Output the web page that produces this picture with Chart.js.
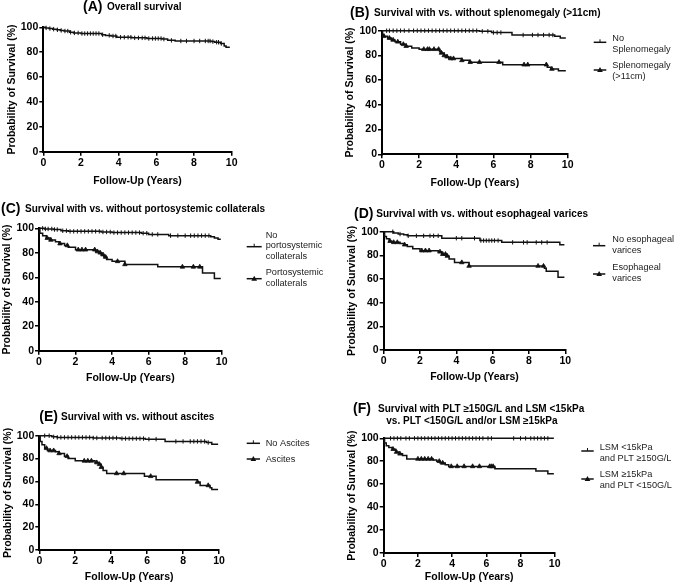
<!DOCTYPE html>
<html>
<head>
<meta charset="utf-8">
<script src="https://cdn.jsdelivr.net/npm/chart.js@4.4.1/dist/chart.umd.min.js"></script>
<style>
  html, body { margin: 0; padding: 0; background: #fff; }
  #wrap { position: relative; width: 677px; height: 584px; }
  #wrap canvas { position: absolute; left: 0; top: 0; width: 677px; height: 584px; }
</style>
</head>
<body>
<div id="wrap">
  <canvas id="cA" width="677" height="584"></canvas>
  <canvas id="cB" width="677" height="584"></canvas>
  <canvas id="cC" width="677" height="584"></canvas>
  <canvas id="cD" width="677" height="584"></canvas>
  <canvas id="cE" width="677" height="584"></canvas>
  <canvas id="cF" width="677" height="584"></canvas>
</div>
<script>
// axis ticks
const xTickVals = [0, 2, 4, 6, 8, 10];
const yTickVals = [0, 20, 40, 60, 80, 100];

// Kaplan-Meier curves: [years, % surviving] at each event
// censored times listed separately (ticks / triangles sit on the curve)

// (A) overall
const survAll = [[0,100],[0.1,99.5],[0.3,99],[0.5,98.5],[0.7,98],[0.9,97.5],[1.1,97],[1.4,96],[1.6,95.5],[2.0,95],[3.1,94],[3.3,93.5],[3.6,93],[3.9,92],[4.7,91.5],[5.5,91],[6.3,90.5],[6.6,89.5],[7.0,89],[8.9,88.5],[9.1,88],[9.4,87],[9.6,85],[9.7,84],[9.9,84]];
const censAll = [0.15,0.35,0.55,0.75,0.95,1.15,1.3,1.45,1.65,1.85,2.05,2.2,2.35,2.5,2.65,2.8,2.95,3.15,3.5,3.7,3.85,4.1,4.3,4.5,4.65,4.85,5.05,5.25,5.4,5.6,5.8,5.95,6.1,6.25,6.4,6.8,7.3,7.6,8.0,8.3,8.6,8.75,8.85,9.0,9.2,9.3,9.45];

// (B) splenomegaly
const survNoSpleno = [[0,100],[5.25,99.5],[5.9,98.5],[7.0,96.5],[9.3,95.5],[9.6,94],[9.9,94]];
const censNoSpleno = [0.25,0.4,0.6,0.8,1.0,1.2,1.45,1.7,1.9,2.1,2.3,2.5,2.7,2.9,3.1,3.3,3.5,3.7,3.9,4.1,4.3,4.5,4.7,4.9,5.1,5.4,5.7,6.0,6.2,6.4,7.6,8.1,8.4,8.7,9.0,9.2];
const survSpleno = [[0,100],[0.03,97],[0.1,95.5],[0.3,94],[0.5,92.5],[0.7,91],[1.0,89],[1.3,87.5],[1.6,86],[2.0,85],[3.1,83],[3.2,82],[3.35,80],[3.5,79],[3.6,77.5],[4.3,76],[4.7,74.5],[6.5,72.5],[8.9,70.5],[9.1,69],[9.5,67.5],[9.9,67.5]];
const censSpleno = [0.1,0.4,0.6,0.85,1.15,1.3,2.25,2.45,2.55,2.8,3.05,3.2,3.35,3.5,3.7,3.85,4.3,4.75,5.25,6.3,7.65,7.85,8.85,9.15];

// (C) portosystemic collaterals
const survNoColl = [[0,100],[0.3,99.5],[0.8,99],[1.2,98],[1.6,97.5],[3.4,97],[4.0,96.5],[5.6,96],[6.0,95],[7.1,94],[9.4,93],[9.6,92],[9.8,91],[9.95,91]];
const censNoColl = [0.2,0.35,0.5,0.7,0.85,1.0,1.3,1.5,1.7,1.9,2.1,2.3,2.5,2.7,2.9,3.1,3.3,3.5,3.7,3.9,4.1,4.3,4.5,4.7,4.9,5.1,5.3,5.5,5.7,5.9,6.2,6.5,7.2,7.6,8.0,8.3,8.5,8.7,8.9,9.1,9.3];
const survColl = [[0,100],[0.05,96],[0.2,94],[0.4,92],[0.6,90.5],[0.9,89],[1.1,87.5],[1.4,86],[1.6,84.5],[2.0,82.5],[3.1,81],[3.3,80],[3.4,78.5],[3.55,76.5],[3.7,74.5],[4.0,73],[4.7,70.5],[6.5,68.5],[8.95,63.5],[9.6,59],[9.95,59]];
const censColl = [0.45,0.65,1.15,1.55,2.15,2.35,2.55,3.05,3.2,3.35,3.5,3.65,4.3,4.7,7.85,8.45,8.8];

// (D) esophageal varices
const survNoVar = [[0,100],[0.55,99],[0.8,98],[1.1,97.5],[1.3,96.5],[3.2,94.5],[5.3,92.5],[6.5,91],[9.7,89],[9.95,89]];
const censNoVar = [0.5,0.9,1.35,1.8,2.2,2.55,2.75,3.0,4.0,4.3,5.0,5.35,5.5,5.65,5.8,5.95,6.1,6.3,7.1,7.7,7.9,8.4,8.7,9.0];
const survVar = [[0,100],[0.05,96],[0.15,94],[0.3,92],[0.45,91],[0.9,90],[1.1,89],[1.3,87.5],[1.6,85.5],[2.0,84],[3.0,83],[3.2,81],[3.45,79.5],[3.6,77],[3.9,74],[4.7,71],[8.85,69],[8.95,66.5],[9.6,61.5],[9.95,61.5]];
const censVar = [0.35,0.55,0.75,1.15,2.1,2.3,2.5,3.1,3.25,3.4,3.5,4.3,4.7,8.5,8.8];

// (E) ascites
const survNoAsc = [[0,100],[0.7,99],[1.0,98.5],[3.0,98],[4.5,97.5],[5.9,97],[7.0,95],[9.3,94],[9.6,92.5],[9.95,92.5]];
const censNoAsc = [0.3,0.55,0.8,1.0,1.2,1.4,1.6,1.8,2.0,2.2,2.4,2.6,2.8,3.0,3.2,3.5,3.7,3.9,4.1,4.3,4.6,4.8,5.0,5.2,5.4,5.6,5.8,6.1,6.5,7.6,8.0,8.4,8.6,8.8,9.0,9.2,9.4];
const survAsc = [[0,100],[0.05,95],[0.15,92],[0.3,89],[0.45,87],[0.9,86],[1.1,84.5],[1.4,82],[1.6,80],[2.0,78],[3.1,76.5],[3.3,75],[3.45,72.5],[3.55,69.5],[3.75,67],[5.85,64.5],[6.5,61.5],[8.8,59.5],[8.95,56.5],[9.5,54.5],[9.6,53],[9.95,53]];
const censAsc = [0.4,0.6,0.8,1.1,1.55,2.5,2.7,2.9,3.2,3.35,3.45,4.3,4.7,6.2,8.8,9.4];

// (F) LSM / PLT
const survLowRisk = [[0,100],[9.95,100]];
const censLowRisk = [0.4,0.6,0.8,1.0,1.3,1.5,1.8,2.0,2.2,2.4,2.6,2.8,3.0,3.2,3.4,3.6,3.8,4.0,4.2,4.4,4.6,4.8,5.0,5.2,5.4,5.6,5.8,6.1,6.3,7.6,8.0,8.3,8.6,8.8,9.0,9.2,9.4,9.6];
const survHighRisk = [[0,100],[0.05,96],[0.15,93.5],[0.3,92],[0.5,90.5],[0.7,88],[0.9,86.5],[1.1,85],[1.35,82],[2.9,81],[3.1,80],[3.3,78.5],[3.6,77],[3.8,75.5],[6.5,73.5],[8.9,71.5],[9.6,69],[9.95,69]];
const censHighRisk = [0.55,0.75,0.95,2.0,2.2,2.4,2.6,2.8,3.25,3.45,3.95,4.3,4.7,5.2,5.6,6.2,6.3,6.4];

const FONT = '"Liberation Sans", Arial, Helvetica, sans-serif';
const INK = '#111';
Chart.defaults.font.family = FONT;
Chart.defaults.color = '#000';

const bigFont = 'bold 14px ' + FONT;
const titleFont = 'bold 10px ' + FONT;
const legendFont = '9.2px ' + FONT;

const panels = [
  { id: 'cA', L: 43.3, R: 231.7, T: 27.3, B: 151.7, H: 35.6,
    groups: [{ surv: survAll, cens: censAll, mark: 'tick' }],
    title: [{ y: 7.5, parts: [['(A)', 83, bigFont], ['Overall survival', 107, titleFont]] }],
    legend: [] },
  { id: 'cB', L: 382, R: 567.7, T: 30.7, B: 154.3, H: 35,
    groups: [{ surv: survNoSpleno, cens: censNoSpleno, mark: 'tick' }, { surv: survSpleno, cens: censSpleno, mark: 'tri' }],
    title: [{ y: 13.3, parts: [['(B)', 350, bigFont], ['Survival with vs. without splenomegaly (>11cm)', 374, titleFont]] }],
    legend: [
      { x1: 593.7, x2: 606.3, y: 42.3, mark: 'tick', tx: 612.3, ty: 38.3, lines: ['No', 'Splenomegaly'] },
      { x1: 593.7, x2: 606.3, y: 70, mark: 'tri', tx: 612.3, ty: 65.3, lines: ['Splenomegaly', '(>11cm)'] }
    ] },
  { id: 'cC', L: 39, R: 221.7, T: 228.3, B: 350.7, H: 33.3,
    groups: [{ surv: survNoColl, cens: censNoColl, mark: 'tick' }, { surv: survColl, cens: censColl, mark: 'tri' }],
    title: [{ y: 209, parts: [['(C)', 1, bigFont], ['Survival with vs. without portosystemic collaterals', 25, titleFont]] }],
    legend: [
      { x1: 246.7, x2: 261.7, y: 246.7, mark: 'tick', tx: 265.7, ty: 235, lines: ['No', 'portosystemic', 'collaterals'] },
      { x1: 246.7, x2: 261.7, y: 278.7, mark: 'tri', tx: 265.7, ty: 272.3, lines: ['Portosystemic', 'collaterals'] }
    ] },
  { id: 'cD', L: 383.7, R: 565.3, T: 231.7, B: 350, H: 33.8,
    groups: [{ surv: survNoVar, cens: censNoVar, mark: 'tick' }, { surv: survVar, cens: censVar, mark: 'tri' }],
    title: [{ y: 214, parts: [['(D)', 354, bigFont], ['Survival with vs. without esophageal varices', 376.3, titleFont]] }],
    legend: [
      { x1: 593, x2: 605.3, y: 245.7, mark: 'tick', tx: 612.3, ty: 239.3, lines: ['No esophageal', 'varices'] },
      { x1: 593, x2: 605.3, y: 274, mark: 'tri', tx: 612.3, ty: 267.3, lines: ['Esophageal', 'varices'] }
    ] },
  { id: 'cE', L: 39.3, R: 219, T: 435.7, B: 550, H: 33,
    groups: [{ surv: survNoAsc, cens: censNoAsc, mark: 'tick' }, { surv: survAsc, cens: censAsc, mark: 'tri' }],
    title: [{ y: 417.3, parts: [['(E)', 39.3, bigFont], ['Survival with vs. without ascites', 61, titleFont]] }],
    legend: [
      { x1: 246.7, x2: 260, y: 443.3, mark: 'tick', tx: 265.7, ty: 443.3, lines: ['No Ascites'] },
      { x1: 246.7, x2: 260, y: 459, mark: 'tri', tx: 265.7, ty: 459, lines: ['Ascites'] }
    ] },
  { id: 'cF', L: 383.7, R: 554.7, T: 438.3, B: 553, H: 30,
    groups: [{ surv: survLowRisk, cens: censLowRisk, mark: 'tick' }, { surv: survHighRisk, cens: censHighRisk, mark: 'tri' }],
    title: [
      { y: 409.3, parts: [['(F)', 353, bigFont], ['Survival with PLT \u2265150G/L and LSM <15kPa', 378, titleFont]] },
      { y: 421, parts: [['vs. PLT <150G/L and/or LSM \u226515kPa', 386.3, titleFont]] }
    ],
    legend: [
      { x1: 581.3, x2: 593.7, y: 451, mark: 'tick', tx: 599.7, ty: 447.7, lines: ['LSM <15kPa', 'and PLT \u2265150G/L'] },
      { x1: 581.3, x2: 593.7, y: 479, mark: 'tri', tx: 599.7, ty: 474.3, lines: ['LSM \u226515kPa', 'and PLT <150G/L'] }
    ] }
];

// survival level of a step curve at time t
function levelAt(curve, t) {
  let s = curve[0][1];
  for (const [x, y] of curve) { if (x <= t) s = y; }
  return s;
}

function drawTri(ctx, x, y, r) {
  ctx.beginPath();
  ctx.moveTo(x, y - r);
  ctx.lineTo(x + r * 0.95, y + r * 0.65);
  ctx.lineTo(x - r * 0.95, y + r * 0.65);
  ctx.closePath();
  ctx.fill();
}

function decorPlugin(p) {
  return {
    id: 'decor' + p.id,
    afterDraw(chart) {
      const ctx = chart.ctx;
      ctx.save();
      ctx.textBaseline = 'middle';
      ctx.textAlign = 'left';
      ctx.fillStyle = '#000';
      p.title.forEach(line => {
        line.parts.forEach(([txt, x, font]) => {
          ctx.font = font;
          ctx.fillText(txt, x, line.y);
        });
      });
      p.legend.forEach(e => {
        ctx.strokeStyle = INK;
        ctx.fillStyle = INK;
        ctx.lineWidth = 1.5;
        ctx.beginPath();
        ctx.moveTo(e.x1, e.y);
        ctx.lineTo(e.x2, e.y);
        ctx.stroke();
        const cx = (e.x1 + e.x2) / 2;
        if (e.mark === 'tick') {
          ctx.lineWidth = 1;
          ctx.beginPath();
          ctx.moveTo(cx, e.y - 3);
          ctx.lineTo(cx, e.y);
          ctx.stroke();
        } else {
          drawTri(ctx, cx, e.y, 3);
        }
        ctx.font = legendFont;
        ctx.fillStyle = '#222';
        e.lines.forEach((t, i) => ctx.fillText(t, e.tx, e.ty + i * 10.8));
      });
      ctx.restore();
    }
  };
}

function buildPanel(p) {
  const datasets = [];
  p.groups.forEach(g => {
    datasets.push({
      data: g.surv.map(([x, y]) => ({ x, y })),
      stepped: true,
      borderColor: INK,
      borderWidth: 1.5,
      pointRadius: 0,
      fill: false,
      clip: false
    });
    const isTick = g.mark === 'tick';
    datasets.push({
      data: g.cens.map(t => ({ x: t, y: levelAt(g.surv, t) })),
      showLine: false,
      pointStyle: isTick ? 'line' : 'triangle',
      pointRotation: isTick ? 90 : 0,
      pointRadius: isTick ? 2.2 : 2.6,
      pointBorderWidth: isTick ? 1 : 0.8,
      pointBorderColor: INK,
      pointBackgroundColor: INK,
      clip: false
    });
  });

  const axisTitle = { display: true, font: { size: 10.5, weight: 'bold' }, color: '#000' };
  const tickFont = { size: 10.5, weight: 'bold' };

  new Chart(document.getElementById(p.id), {
    type: 'line',
    data: { datasets },
    options: {
      responsive: false,
      animation: false,
      events: [],
      layout: {
        padding: { left: p.L - 40, top: p.T, right: 677 - p.R, bottom: 584 - p.B - p.H }
      },
      plugins: { legend: { display: false }, tooltip: { enabled: false }, title: { display: false } },
      scales: {
        x: {
          type: 'linear', min: 0, max: 10,
          afterBuildTicks: s => { s.ticks = xTickVals.map(v => ({ value: v })); },
          afterFit: s => { s.height = p.H; },
          ticks: { font: tickFont, color: '#000', padding: 1, maxRotation: 0 },
          grid: { drawOnChartArea: false, drawTicks: true, tickLength: 4, color: '#000', lineWidth: 1.5 },
          border: { display: true, color: '#000', width: 2 },
          title: Object.assign({ text: 'Follow-Up (Years)', padding: { top: 0, bottom: 0 } }, axisTitle)
        },
        y: {
          type: 'linear', min: 0, max: 100,
          afterBuildTicks: s => { s.ticks = yTickVals.map(v => ({ value: v })); },
          afterFit: s => { s.width = 40; },
          ticks: { font: tickFont, color: '#000', padding: 1 },
          grid: { drawOnChartArea: false, drawTicks: true, tickLength: 4, color: '#000', lineWidth: 1.5 },
          border: { display: true, color: '#000', width: 2 },
          title: Object.assign({ text: 'Probability of Survival (%)', padding: { top: 2.2, bottom: 0 } }, axisTitle)
        }
      }
    },
    plugins: [decorPlugin(p)]
  });
}

panels.forEach(buildPanel);
</script>
</body>
</html>
